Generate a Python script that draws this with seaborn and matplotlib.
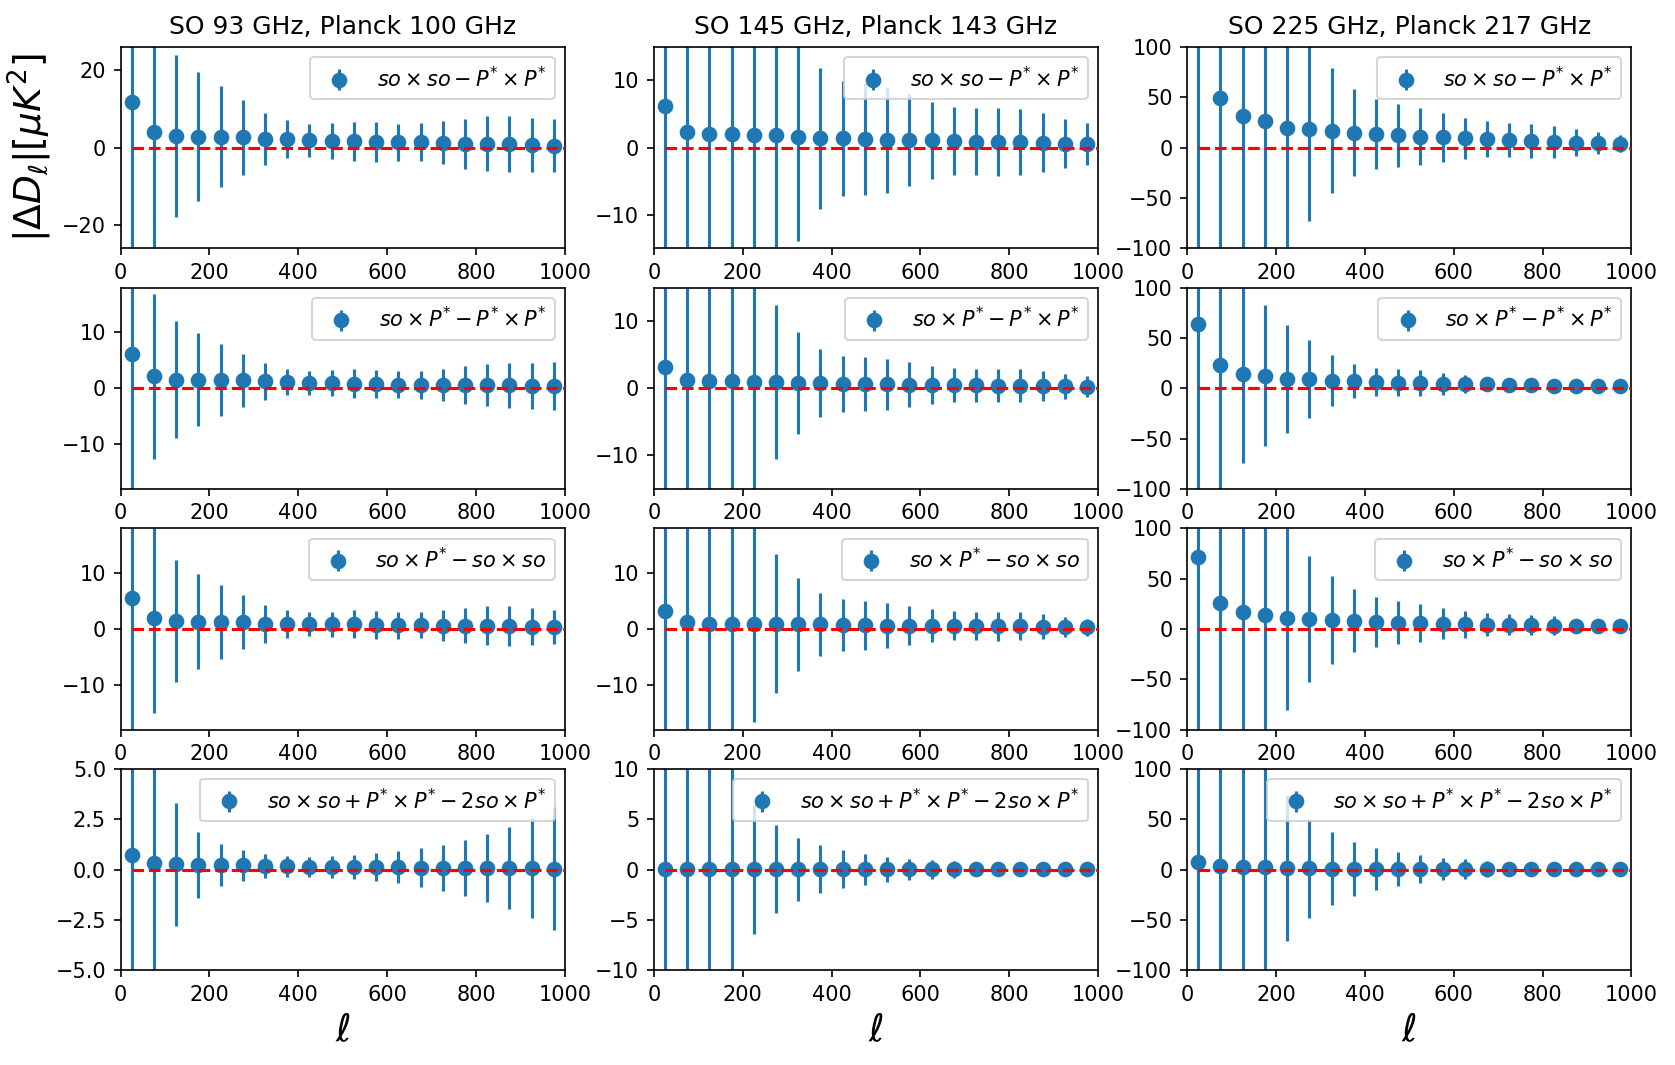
import matplotlib
matplotlib.use("Agg")
import matplotlib.pyplot as plt
import pandas as pd
import seaborn as sns

# multipole bin centres
ell = [25, 75, 125, 175, 225, 275, 325, 375, 425, 475,
       525, 575, 625, 675, 725, 775, 825, 875, 925, 975]
zero_x = [25, 1000]
zero_y = [0, 0]

col_titles = ["SO 93 GHz, Planck 100 GHz",
              "SO 145 GHz, Planck 143 GHz",
              "SO 225 GHz, Planck 217 GHz"]
row_labels = [r"$so \times so - P^{*} \times P^{*}$",
              r"$so \times P^{*} - P^{*} \times P^{*}$",
              r"$so \times P^{*} - so \times so$",
              r"$so \times so + P^{*} \times P^{*} - 2so \times P^{*}$"]

# row 1: so x so - P* x P*
c93_r1 = [11.7, 4.1, 3.0, 2.8, 2.8, 2.6, 2.2, 2.2, 1.9, 1.7, 1.6, 1.4, 1.4, 1.4, 1.3, 1.0, 1.0, 0.95, 0.7, 0.5]
e93_r1 = [45, 35, 21, 16.7, 13, 9.7, 6.7, 4.8, 4.3, 4.65, 5.1, 5.1, 4.8, 4.85, 5.45, 6.45, 7.1, 7.25, 6.9, 6.8]
c145_r1 = [6.25, 2.35, 2.0, 2.0, 1.85, 1.85, 1.5, 1.4, 1.35, 1.25, 1.15, 1.1, 1.1, 1.0, 0.9, 0.85, 0.85, 0.75, 0.6, 0.5]
e145_r1 = [30, 25, 22, 20, 19, 18, 15.4, 10.5, 8.6, 8.3, 7.9, 6.9, 5.75, 5.05, 5.0, 5.1, 4.9, 4.4, 3.7, 3.1]
c225_r1 = [150, 49.3, 31.7, 26, 19.3, 18.3, 16.7, 14.7, 13.3, 12.3, 10.7, 10, 9, 8.3, 7.3, 6.7, 5.7, 5, 4.3, 4]
e225_r1 = [300, 180, 150, 130, 125, 91.6, 62, 43, 34.8, 31.3, 28.5, 24.8, 20.5, 17.6, 16.8, 16.7, 15.7, 13.3, 10.8, 8.8]

# row 2: so x P* - P* x P*
c93_r2 = [6.2, 2.1, 1.55, 1.55, 1.5, 1.4, 1.2, 1.1, 0.95, 0.9, 0.8, 0.72, 0.66, 0.66, 0.6, 0.55, 0.55, 0.5, 0.42, 0.42]
e93_r2 = [30, 14.7, 10.4, 8.25, 6.45, 4.75, 3.3, 2.4, 2.15, 2.3, 2.55, 2.5, 2.4, 2.5, 2.85, 3.4, 3.8, 4.0, 4.1, 4.35]
c145_r2 = [3.15, 1.15, 1.05, 1.05, 0.95, 0.9, 0.75, 0.75, 0.65, 0.65, 0.6, 0.55, 0.5, 0.5, 0.45, 0.4, 0.4, 0.35, 0.3, 0.25]
e145_r2 = [25, 20, 18, 17, 16.5, 11.5, 7.6, 5.05, 4.15, 4.0, 3.8, 3.4, 2.8, 2.5, 2.45, 2.5, 2.45, 2.2, 1.85, 1.5]
c225_r2 = [63.5, 23.3, 14.3, 12.3, 9.3, 9.0, 7.6, 7.0, 6.3, 5.6, 5.0, 4.3, 4.0, 3.7, 3.0, 2.7, 2.3, 2.0, 1.7, 1.7]
e225_r2 = [180, 130, 88.7, 70, 53.8, 38.4, 25, 16.8, 13.8, 13.1, 12.8, 10.8, 9, 6.5, 5, 4.5, 4, 3.5, 3, 2.5]

# row 3: so x P* - so x so
c93_r3 = [5.5, 1.9, 1.4, 1.3, 1.3, 1.2, 0.95, 0.95, 0.85, 0.8, 0.8, 0.7, 0.65, 0.65, 0.6, 0.55, 0.55, 0.5, 0.42, 0.36]
e93_r3 = [30, 16.9, 10.9, 8.45, 6.6, 4.85, 3.4, 2.5, 2.1, 2.3, 2.5, 2.5, 2.4, 2.35, 2.7, 3.1, 3.45, 3.5, 3.3, 3.1]
c145_r3 = [3.2, 1.2, 0.95, 0.95, 0.9, 0.9, 0.8, 0.8, 0.65, 0.65, 0.6, 0.6, 0.55, 0.55, 0.5, 0.5, 0.5, 0.42, 0.36, 0.3]
e145_r3 = [28, 24, 22, 20, 17.5, 12.4, 8.25, 5.6, 4.65, 4.35, 4.0, 3.55, 2.95, 2.6, 2.5, 2.6, 2.5, 2.25, 1.85, 1.5]
c225_r3 = [71, 25.9, 16.3, 13.6, 10.3, 10.0, 9.0, 8.3, 7.0, 6.3, 5.6, 5.3, 4.65, 4.3, 4.0, 3.65, 3.3, 3.0, 2.6, 2.6]
e225_r3 = [180, 135, 125, 118, 90.7, 62.6, 43.5, 31.5, 24.9, 21.4, 18.6, 15.8, 13.3, 11.6, 10.4, 10, 9.1, 7, 5, 4]

# row 4: so x so + P* x P* - 2 so x P*
c93_r4 = [0.73, 0.32, 0.25, 0.22, 0.22, 0.2, 0.17, 0.17, 0.13, 0.13, 0.12, 0.12, 0.12, 0.1, 0.08, 0.08, 0.08, 0.07, 0.07, 0.05]
e93_r4 = [7, 6, 3.07, 1.64, 1.03, 0.76, 0.61, 0.52, 0.5, 0.55, 0.6, 0.68, 0.81, 0.96, 1.13, 1.38, 1.67, 2.03, 2.49, 3.07]
c145_r4 = [0.1, 0.05, 0.05, 0.05, 0.03, 0.03, 0.03, 0.03, 0.03, 0.02, 0.02, 0.02, 0.02, 0.02, 0.02, 0.02, 0.01, 0.01, 0.01, 0.01]
e145_r4 = [15, 13, 12, 11, 6.45, 4.35, 3.15, 2.37, 1.87, 1.53, 1.27, 1.07, 0.93, 0.85, 0.7, 0.6, 0.5, 0.45, 0.4, 0.35]
c225_r4 = [7.7, 3.3, 2.7, 2.3, 1.7, 1.3, 1.0, 0.9, 0.8, 0.7, 0.6, 0.55, 0.5, 0.45, 0.4, 0.35, 0.3, 0.25, 0.2, 0.2]
e225_r4 = [150, 130, 120, 110, 72.5, 49, 35.8, 26.7, 20.8, 16.8, 13.5, 11.3, 10, 8, 6, 5, 4.5, 4, 3.5, 3]

yticks_r4_93 = [-5.0, -2.5, 0.0, 2.5, 5.0]

values = [[c93_r1, c145_r1, c225_r1],
          [c93_r2, c145_r2, c225_r2],
          [c93_r3, c145_r3, c225_r3],
          [c93_r4, c145_r4, c225_r4]]
errors = [[e93_r1, e145_r1, e225_r1],
          [e93_r2, e145_r2, e225_r2],
          [e93_r3, e145_r3, e225_r3],
          [e93_r4, e145_r4, e225_r4]]
ylims = [[26, 15, 100],
         [18, 15, 100],
         [18, 18, 100],
         [5, 10, 100]]

blue = sns.color_palette()[0]
zero_df = pd.DataFrame({"x": zero_x, "y": zero_y})

fig, axes = plt.subplots(4, 3, figsize=(1675 / 150, 1065 / 150), dpi=150)

for i in range(4):
    for j in range(3):
        ax = axes[i, j]
        ax.errorbar(ell, values[i][j], yerr=errors[i][j], fmt="o",
                    color=blue, markersize=6.5, elinewidth=1.5,
                    label=row_labels[i])
        sns.lineplot(data=zero_df, x="x", y="y", ax=ax, color="red",
                     linestyle="--", linewidth=1.5, zorder=5)
        ax.set_xlim(0, 1000)
        ax.set_ylim(-ylims[i][j], ylims[i][j])
        ax.set_xlabel("")
        ax.set_ylabel("")
        ax.legend(loc="upper right", fontsize=10)
        if i == 0:
            ax.set_title(col_titles[j], fontsize=12)
        if i == 3:
            ax.set_xlabel(r"$\ell$", fontsize=18)

axes[3, 0].set_yticks(yticks_r4_93)
axes[0, 0].set_ylabel(r"$|\Delta D_{\ell}|[\mu K^2]$", fontsize=18)

fig.subplots_adjust(left=0.072, right=0.974, top=0.956, bottom=0.089,
                    wspace=0.2, hspace=0.195)
plt.savefig("out.png", dpi=150)
